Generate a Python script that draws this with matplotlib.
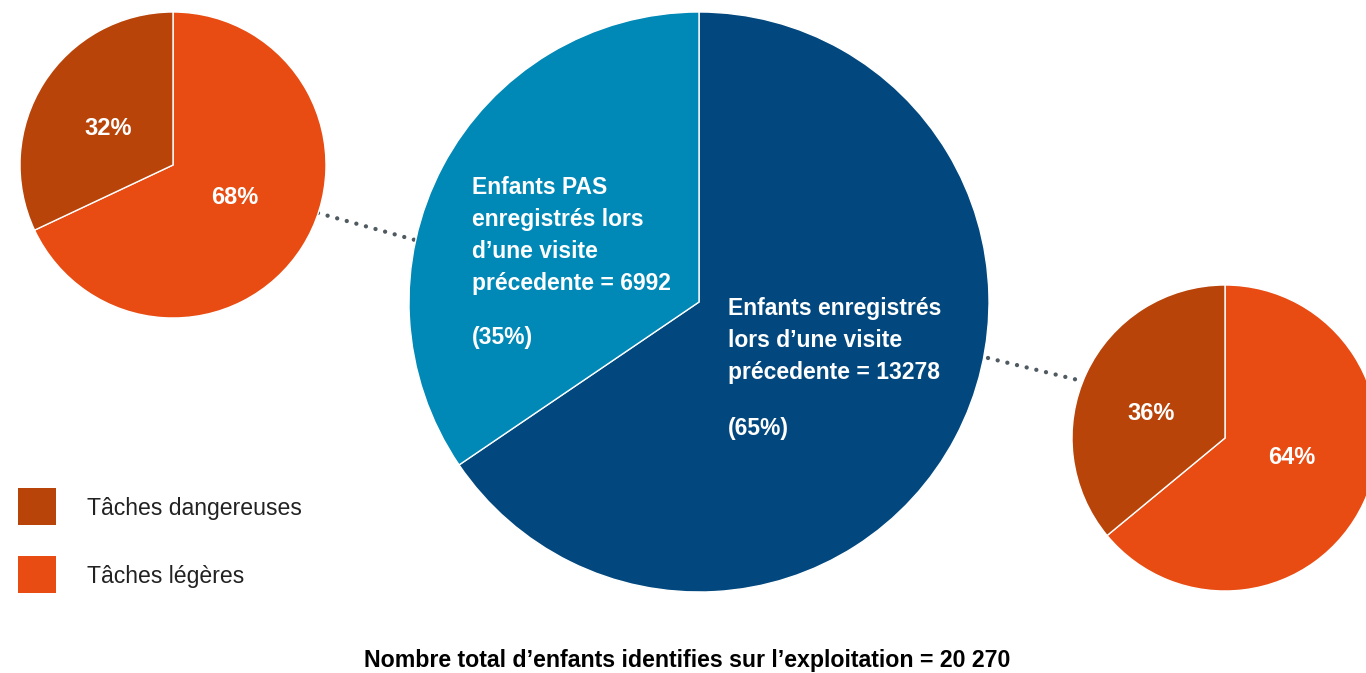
import matplotlib
matplotlib.use("Agg")
import matplotlib.pyplot as plt
from matplotlib.patches import Rectangle

# ---- data ----
main_labels = ["Enfants enregistrés lors d'une visite précedente", "Enfants PAS enregistrés lors d'une visite précedente"]
main_values = [13278, 6992]
main_pcts = [65, 35]
total_children = "20 270"

legend_labels = ["Tâches dangereuses", "Tâches légères"]
left_pie = [68, 32]    # légères, dangereuses (PAS enregistrés)
right_pie = [64, 36]   # légères, dangereuses (enregistrés)

C_DARKBLUE = "#02487e"
C_LIGHTBLUE = "#0088b6"
C_DANGER = "#b9440a"
C_LIGHT = "#e84c13"
C_DOTS = "#4f5a61"

W, H = 1366, 673
fig = plt.figure(figsize=(W / 100, H / 100), dpi=100)
ax = fig.add_axes([0, 0, 1, 1])

def Y(y):
    return H - y

FONT = ["Liberation Sans", "DejaVu Sans"]

# main pie
ax.pie(main_values, colors=[C_DARKBLUE, C_LIGHTBLUE], startangle=90, counterclock=False,
       center=(699, Y(302)), radius=290, wedgeprops=dict(edgecolor="white", linewidth=1.0),
       frame=True)
# left small pie
ax.pie(left_pie, colors=[C_LIGHT, C_DANGER], startangle=90, counterclock=False,
       center=(173, Y(165)), radius=153, wedgeprops=dict(edgecolor="white", linewidth=1.0),
       frame=True)
# right small pie
ax.pie(right_pie, colors=[C_LIGHT, C_DANGER], startangle=90, counterclock=False,
       center=(1225, Y(438)), radius=153, wedgeprops=dict(edgecolor="white", linewidth=1.0),
       frame=True)

# dotted connectors
for (x0, y0), (x1, y1) in [((318, 213), (415, 240)), ((988, 358), (1078, 380))]:
    ax.plot([x0, x1], [Y(y0), Y(y1)], color=C_DOTS, lw=3.1,
            linestyle=(0, (0.01, 2.3)), dash_capstyle="round", zorder=0)

# main pie labels
FS = 16.5
left_lines = ["Enfants PAS", "enregistrés lors", "d\u2019une visite",
              "précedente = %d" % main_values[1]]
for i, s in enumerate(left_lines):
    ax.text(472, Y(194 + 32 * i), s, color="white", fontsize=FS, fontweight="bold",
            family=FONT, ha="left", va="baseline")
ax.text(472, Y(344), "(%d%%)" % main_pcts[1], color="white", fontsize=FS, fontweight="bold",
        family=FONT, ha="left", va="baseline")

right_lines = ["Enfants enregistrés", "lors d\u2019une visite",
               "précedente = %d" % main_values[0]]
for i, s in enumerate(right_lines):
    ax.text(728, Y(315 + 32 * i), s, color="white", fontsize=FS, fontweight="bold",
            family=FONT, ha="left", va="baseline")
ax.text(728, Y(435), "(%d%%)" % main_pcts[0], color="white", fontsize=FS, fontweight="bold",
        family=FONT, ha="left", va="baseline")

# small pie labels
for (x, y), v in [((108, 135), left_pie[1]), ((235, 204), left_pie[0]),
                  ((1151, 420), right_pie[1]), ((1292, 464), right_pie[0])]:
    ax.text(x, Y(y), "%d%%" % v, color="white", fontsize=17, fontweight="bold",
            family=FONT, ha="center", va="baseline")

# legend
for (ytop, col, lab) in [(488, C_DANGER, legend_labels[0]), (556, C_LIGHT, legend_labels[1])]:
    ax.add_patch(Rectangle((18, Y(ytop + 37)), 38, 37, facecolor=col, edgecolor="none"))
    ax.text(87, Y(ytop + 21), lab, color="#222222", fontsize=16.6, family=FONT,
            ha="left", va="center")

# bottom caption
ax.text(687, Y(660), "Nombre total d\u2019enfants identifies sur l\u2019exploitation = " + total_children,
        color="black", fontsize=16.7, fontweight="bold",
        family=FONT, ha="center", va="center")

ax.set_xlim(0, W)
ax.set_ylim(0, H)
ax.set_aspect("auto")
ax.axis("off")
fig.savefig("out.png", dpi=100, facecolor="white")
